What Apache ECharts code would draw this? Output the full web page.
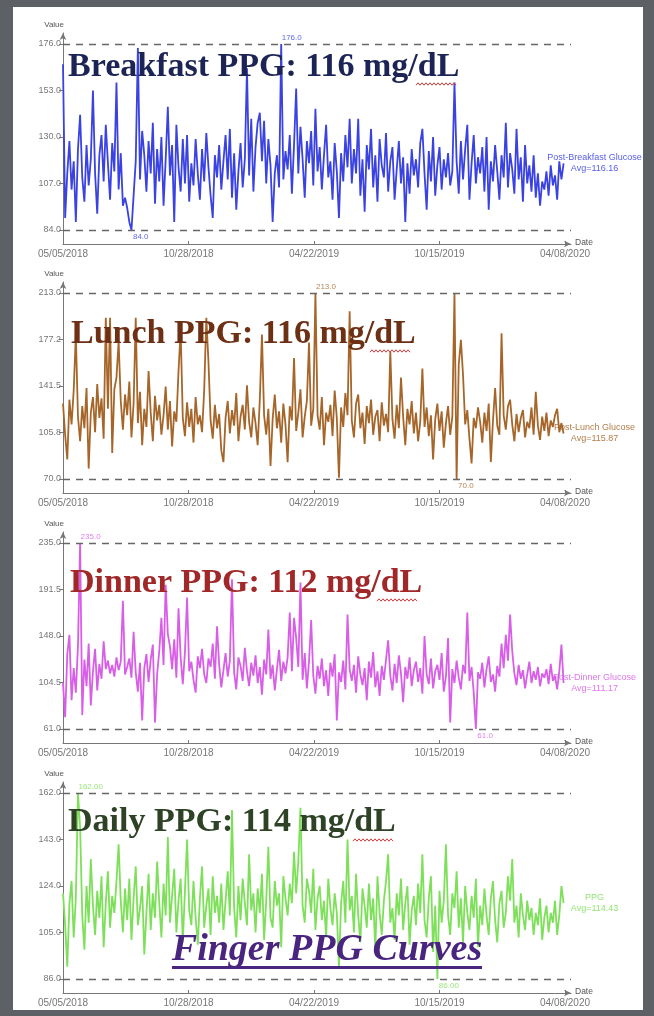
<!DOCTYPE html>
<html>
<head>
<meta charset="utf-8">
<script src="https://cdn.jsdelivr.net/npm/echarts@6/dist/echarts.min.js"></script>
<style>
html,body{margin:0;padding:0;background:#5d6065;}
#chart{width:654px;height:1016px;}
</style>
</head>
<body>
<div id="chart"></div>
<script>
// ---------------- DATA ----------------
const xTickDays = [0, 176, 352, 528, 704];
const xTickLabels = ['05/05/2018', '10/28/2018', '04/22/2019', '10/15/2019', '04/08/2020'];
const stepDays = 3; // one reading every 3 days from 05/05/2018

const breakfastValues = [
  166, 90, 112, 128, 104, 118, 88, 124, 141, 110, 98, 126, 106, 119, 153,
  112, 92, 121, 131, 108, 136, 117, 99, 127, 113, 157, 104, 122, 96, 100,
  95, 88, 84, 101, 118, 174, 109, 133, 121, 103, 128, 112, 137, 97, 124,
  108, 130, 96, 119, 145, 111, 126, 88, 136, 115, 103, 129, 107, 131, 98,
  117, 106, 129, 112, 99, 124, 108, 132, 115, 101, 90, 121, 110, 126, 104,
  118, 131, 109, 134, 100, 122, 94, 113, 127, 105, 119, 164, 111, 139, 103,
  125, 137, 142, 118, 138, 107, 129, 116, 88, 112, 121, 105, 176, 109, 123,
  114, 131, 102, 126, 154, 112, 135, 119, 100, 128, 117, 133, 106, 144, 113,
  125, 104, 121, 136, 110, 118, 99, 127, 113, 90, 122, 108, 131, 115, 139,
  107, 124, 112, 139, 101, 119, 93, 126, 114, 134, 105, 121, 98, 129, 116,
  110, 132, 103, 118, 125, 99, 114, 128, 107, 120, 88, 117, 102, 124, 111,
  119, 105, 127, 134, 112, 94, 123, 108, 130, 101, 116, 125, 104, 119, 110,
  122, 106, 113, 157, 118, 102, 128, 109, 124, 136, 99, 117, 131, 107, 120,
  112, 125, 103, 130, 94, 118, 108, 126, 113, 99, 121, 110, 137, 105, 122,
  114, 102, 134, 109, 120, 98, 126, 107, 116, 103, 121, 100, 112, 96, 108,
  104, 113, 101, 116, 106, 111, 99, 118, 109, 117
];
const lunchValues = [
  128, 104, 85, 131, 112, 138, 181, 118, 99, 126, 109, 140, 78, 121, 133,
  106, 143, 117, 132, 101, 194, 124, 194, 90, 139, 148, 176, 130, 108, 135,
  119, 145, 102, 128, 194, 113, 137, 96, 124, 110, 153, 121, 99, 134, 115,
  127, 104, 119, 141, 108, 130, 95, 122, 114, 153, 184, 117, 103, 129, 110,
  124, 98, 133, 112, 119, 106, 138, 194, 160, 115, 101, 127, 109, 120, 92,
  83, 117, 130, 105, 123, 111, 136, 99, 118, 127, 108, 142, 114, 102, 125,
  113, 96, 131, 181, 119, 104, 124, 80, 116, 135, 109, 122, 98, 128, 112,
  83, 126, 115, 163, 107, 121, 139, 102, 118, 130, 175, 111, 124, 213, 119,
  108, 133, 96, 121, 114, 127, 103, 138, 117, 71, 125, 110, 136, 119, 199,
  115, 102, 128, 135, 109, 121, 97, 126, 113, 131, 104, 118, 123, 99, 129,
  111, 120, 106, 168, 116, 101, 127, 109, 148, 118, 96, 124, 112, 130, 105,
  121, 99, 114, 155, 110, 125, 103, 119, 85, 116, 128, 107, 122, 94, 113,
  126, 104, 118, 213, 70, 158, 177, 150, 112, 123, 101, 82, 117, 109, 125,
  114, 98, 121, 107, 128, 83, 115, 140, 111, 104, 182, 119, 108, 126, 131,
  112, 99, 120, 106, 117, 123, 102, 114, 109, 125, 104, 137, 111, 100, 118,
  107, 121, 103, 115, 110, 119, 124, 106, 113, 105
];
const dinnerValues = [
  104, 72, 131, 149, 88, 118, 95, 139, 235, 74, 126, 101, 141, 83, 115,
  136, 97, 122, 108, 143, 117, 125, 113, 121, 110, 128, 116, 124, 181, 112,
  119, 127, 109, 152, 114, 96, 123, 69, 118, 131, 105, 126, 140, 67, 112,
  134, 165, 121, 196, 150, 138, 117, 145, 109, 174, 128, 103, 133, 184, 115,
  124, 107, 95, 129, 118, 136, 112, 104, 127, 119, 141, 108, 157, 121, 100,
  116, 132, 110, 125, 201, 114, 98, 128, 120, 106, 137, 115, 101, 123, 111,
  130, 104, 119, 93, 126, 112, 154, 108, 121, 97, 117, 135, 106, 124, 113,
  128, 170, 115, 165, 146, 119, 198, 107, 132, 99, 124, 163, 111, 94, 120,
  108, 127, 101, 116, 92, 123, 110, 131, 69, 114, 105, 125, 98, 168, 117,
  106, 121, 95, 129, 112, 102, 118, 88, 124, 109, 133, 100, 115, 92, 120,
  107, 126, 144, 111, 97, 122, 104, 130, 113, 86, 119, 108, 128, 101, 116,
  124, 105, 118, 94, 148, 112, 103, 127, 99, 115, 121, 107, 132, 96, 110,
  146, 67, 117, 104, 125, 109, 98, 121, 113, 170, 106, 119, 95, 61, 114,
  108, 123, 100, 117, 129, 105, 112, 96, 120, 110, 141, 118, 149, 125, 168,
  134, 113, 102, 121, 108, 116, 99, 112, 124, 104, 115, 107, 119, 101, 113,
  109, 117, 103, 122, 106, 111, 98, 115, 140, 104
];
const dailyValues = [
  121, 108, 91, 117, 126, 103, 119, 162, 148, 112, 98, 124, 109, 135, 116,
  104, 122, 111, 128, 99, 117, 130, 107, 120, 113, 126, 141, 118, 105, 123,
  110, 127, 102, 119, 132, 108, 115, 124, 96, 113, 129, 106, 121, 111, 134,
  117, 103, 125, 112, 144, 109, 120, 131, 105, 118, 127, 101, 122, 143, 114,
  108, 126, 111, 100, 119, 132, 107, 116, 123, 104, 128, 113, 120, 109, 125,
  106, 118, 130, 112, 155, 115, 103, 124, 110, 127, 117, 108, 137, 114, 121,
  105, 123, 113, 129, 102, 118, 140, 111, 107, 126, 116, 121, 99, 128, 119,
  112, 125, 117, 138, 121, 134, 156, 116, 109, 127, 122, 113, 131, 106, 119,
  124, 110, 118, 103, 127, 115, 108, 121, 113, 91, 117, 126, 109, 143, 114,
  120, 105, 129, 112, 101, 123, 116, 107, 125, 110, 119, 98, 128, 113, 104,
  118, 126, 137, 109, 115, 102, 121, 112, 127, 106, 117, 124, 100, 114, 120,
  108, 125, 113, 137, 110, 103, 119, 128, 97, 116, 86, 122, 109, 118, 141,
  112, 104, 121, 115, 130, 107, 119, 101, 124, 113, 106, 120, 111, 127, 99,
  116, 108, 123, 112, 104, 119, 126, 110, 101, 117, 122, 107, 113, 128, 118,
  135, 109, 116, 103, 121, 112, 106, 118, 110, 115, 104, 113, 108, 119, 102,
  111, 116, 105, 113, 109, 118, 104, 112, 124, 117
];

const breakfastTicks = [84, 107, 130, 153, 176];
const lunchTicks = [70, 105.8, 141.5, 177.2, 213];
const dinnerTicks = [61, 104.5, 148, 191.5, 235];
const dailyTicks = [86, 105, 124, 143, 162];

const seriesNames = ['Post-Breakfast Glucose', 'Post-Lunch Glucose', 'Post-Dinner Glucose', 'PPG'];
const seriesAvgs = ['116.16', '115.87', '111.17', '114.43'];
const panelTitles = ['Breakfast PPG: 116 mg/dL', 'Lunch PPG: 116 mg/dL', 'Dinner PPG: 112 mg/dL', 'Daily PPG: 114 mg/dL'];
const footerTitle = 'Finger PPG Curves';

// ---------------- STYLE / LAYOUT ----------------
const valueSets = [breakfastValues, lunchValues, dinnerValues, dailyValues];
const tickSets = [breakfastTicks, lunchTicks, dinnerTicks, dailyTicks];
const panelStyle = [
  {color: '#3a42e2', titleColor: '#1b2455', tickTop: 44,  titleX: 68, titleBase: 78,  wave: [416, 456, 84],  dec: 1},
  {color: '#a6662a', titleColor: '#6e3015', tickTop: 293, titleX: 71, titleBase: 345, wave: [370, 410, 351], dec: 1},
  {color: '#d85ee8', titleColor: '#a02828', tickTop: 543, titleX: 70, titleBase: 594, wave: [377, 418, 600], dec: 1},
  {color: '#7ee05a', titleColor: '#2e4226', tickTop: 793, titleX: 68, titleBase: 833, wave: [353, 394, 840], dec: 2}
];
const GRID_LEFT = 63, GRID_W = 508, TICK_SPAN = 186, TOP_PAD = 11, BOT_PAD = 14;
const lastTick = xTickDays[xTickDays.length - 1];
const xMax = lastTick * GRID_W / (GRID_W - 6);
const AXIS_COLOR = '#777';
const FRAME = '#5d6065';

const grids = [], xAxes = [], yAxes = [], series = [], graphics = [];

panelStyle.forEach((ps, i) => {
  const ticks = tickSets[i];
  const lo = ticks[0], hi = ticks[ticks.length - 1];
  const perPx = (hi - lo) / TICK_SPAN;
  const vals = valueSets[i];
  grids.push({left: GRID_LEFT, width: GRID_W, top: ps.tickTop - TOP_PAD, height: TICK_SPAN + TOP_PAD + BOT_PAD});
  xAxes.push({
    gridIndex: i, type: 'value', min: 0, max: xMax,
    name: 'Date', nameLocation: 'end', nameGap: 4,
    nameTextStyle: {fontSize: 8.5, color: '#555', verticalAlign: 'bottom', padding: [0, 0, -3, 0]},
    axisLine: {show: true, lineStyle: {color: AXIS_COLOR, width: 1}, symbol: ['none', 'arrow'], symbolSize: [5, 7]},
    axisTick: {show: true, inside: true, length: 3, customValues: xTickDays, lineStyle: {color: AXIS_COLOR}},
    axisLabel: {customValues: xTickDays, formatter: v => xTickLabels[xTickDays.indexOf(v)], fontSize: 10, color: '#777', margin: 5},
    splitLine: {show: false}
  });
  yAxes.push({
    gridIndex: i, type: 'value', min: lo - BOT_PAD * perPx, max: hi + TOP_PAD * perPx,
    name: 'Value', nameLocation: 'end', nameGap: 4,
    nameTextStyle: {fontSize: 8, color: '#555', align: 'right', padding: [0, -1, 0, 0]},
    axisLine: {show: true, lineStyle: {color: AXIS_COLOR, width: 1}, symbol: ['none', 'arrow'], symbolSize: [5, 7]},
    axisTick: {show: true, length: 4, customValues: ticks, lineStyle: {color: AXIS_COLOR}},
    axisLabel: {customValues: ticks, formatter: v => v.toFixed(1), fontSize: 9, color: '#777', margin: 2},
    splitLine: {show: false}
  });
  const lastIdx = vals.length - 1;
  series.push({
    type: 'line', xAxisIndex: i, yAxisIndex: i,
    data: vals.map((v, k) => [k * stepDays, v]),
    showSymbol: false, symbol: 'none',
    lineStyle: {width: 1.8, color: ps.color}, itemStyle: {color: ps.color},
    z: 3,
    markLine: {
      silent: true, symbol: ['none', 'none'], animation: false,
      lineStyle: {type: [7, 6], color: '#666', width: 1.3},
      label: {show: false},
      data: [{type: 'max'}, {type: 'min'}]
    },
    markPoint: {
      silent: true, symbol: 'circle', symbolSize: 1, animation: false,
      itemStyle: {color: 'rgba(0,0,0,0)'},
      data: [
        {type: 'max', label: {show: true, position: [1, -10], fontSize: 8, color: ps.color, opacity: 0.8, formatter: p => Number(p.value).toFixed(ps.dec)}},
        {type: 'min', label: {show: true, position: [2, 3], fontSize: 8, color: ps.color, opacity: 0.8, formatter: p => Number(p.value).toFixed(ps.dec)}},
        {coord: [lastIdx * stepDays, vals[lastIdx]], value: vals[lastIdx],
         label: {show: true, position: 'inside', offset: [31, 0], align: 'center', fontSize: 9, lineHeight: 11, color: ps.color, opacity: 0.85,
                 formatter: seriesNames[i] + '\nAvg=' + seriesAvgs[i]}}
      ]
    }
  });
  // panel title
  graphics.push({
    type: 'text', z: 50, silent: true,
    style: {text: panelTitles[i], x: ps.titleX, y: ps.titleBase - 11, font: 'bold 34px "Liberation Serif"', fill: ps.titleColor, align: 'left', verticalAlign: 'middle'}
  });
  // red wavy spell-check underline
  const pts = [];
  for (let x = ps.wave[0], k = 0; x <= ps.wave[1]; x += 2, k++) pts.push([x, ps.wave[2] + (k % 2 ? -1.2 : 1.2)]);
  graphics.push({type: 'polyline', z: 50, silent: true, shape: {points: pts}, style: {stroke: '#d83a3a', lineWidth: 1, fill: null}});
});

// footer title
graphics.push({
  type: 'text', z: 50, silent: true,
  style: {text: footerTitle, x: 327, y: 950, font: 'italic bold 38px "Liberation Serif"', fill: '#4a2580', align: 'center', verticalAlign: 'middle'}
});
graphics.push({type: 'rect', z: 50, silent: true, shape: {x: 172, y: 966, width: 310, height: 3}, style: {fill: '#4a2580'}});

// photo frame
graphics.push({type: 'rect', z: 100, silent: true, shape: {x: 0, y: 0, width: 654, height: 7}, style: {fill: FRAME}});
graphics.push({type: 'rect', z: 100, silent: true, shape: {x: 0, y: 0, width: 13, height: 1016}, style: {fill: FRAME}});
graphics.push({type: 'rect', z: 100, silent: true, shape: {x: 643, y: 0, width: 11, height: 1016}, style: {fill: FRAME}});
graphics.push({type: 'rect', z: 100, silent: true, shape: {x: 0, y: 1010, width: 654, height: 6}, style: {fill: FRAME}});

const chart = echarts.init(document.getElementById('chart'), null, {renderer: 'canvas'});
chart.setOption({
  backgroundColor: '#ffffff',
  animation: false,
  textStyle: {fontFamily: 'Arial, "Liberation Sans", sans-serif'},
  grid: grids,
  xAxis: xAxes,
  yAxis: yAxes,
  series: series,
  graphic: graphics
});
</script>
</body>
</html>
